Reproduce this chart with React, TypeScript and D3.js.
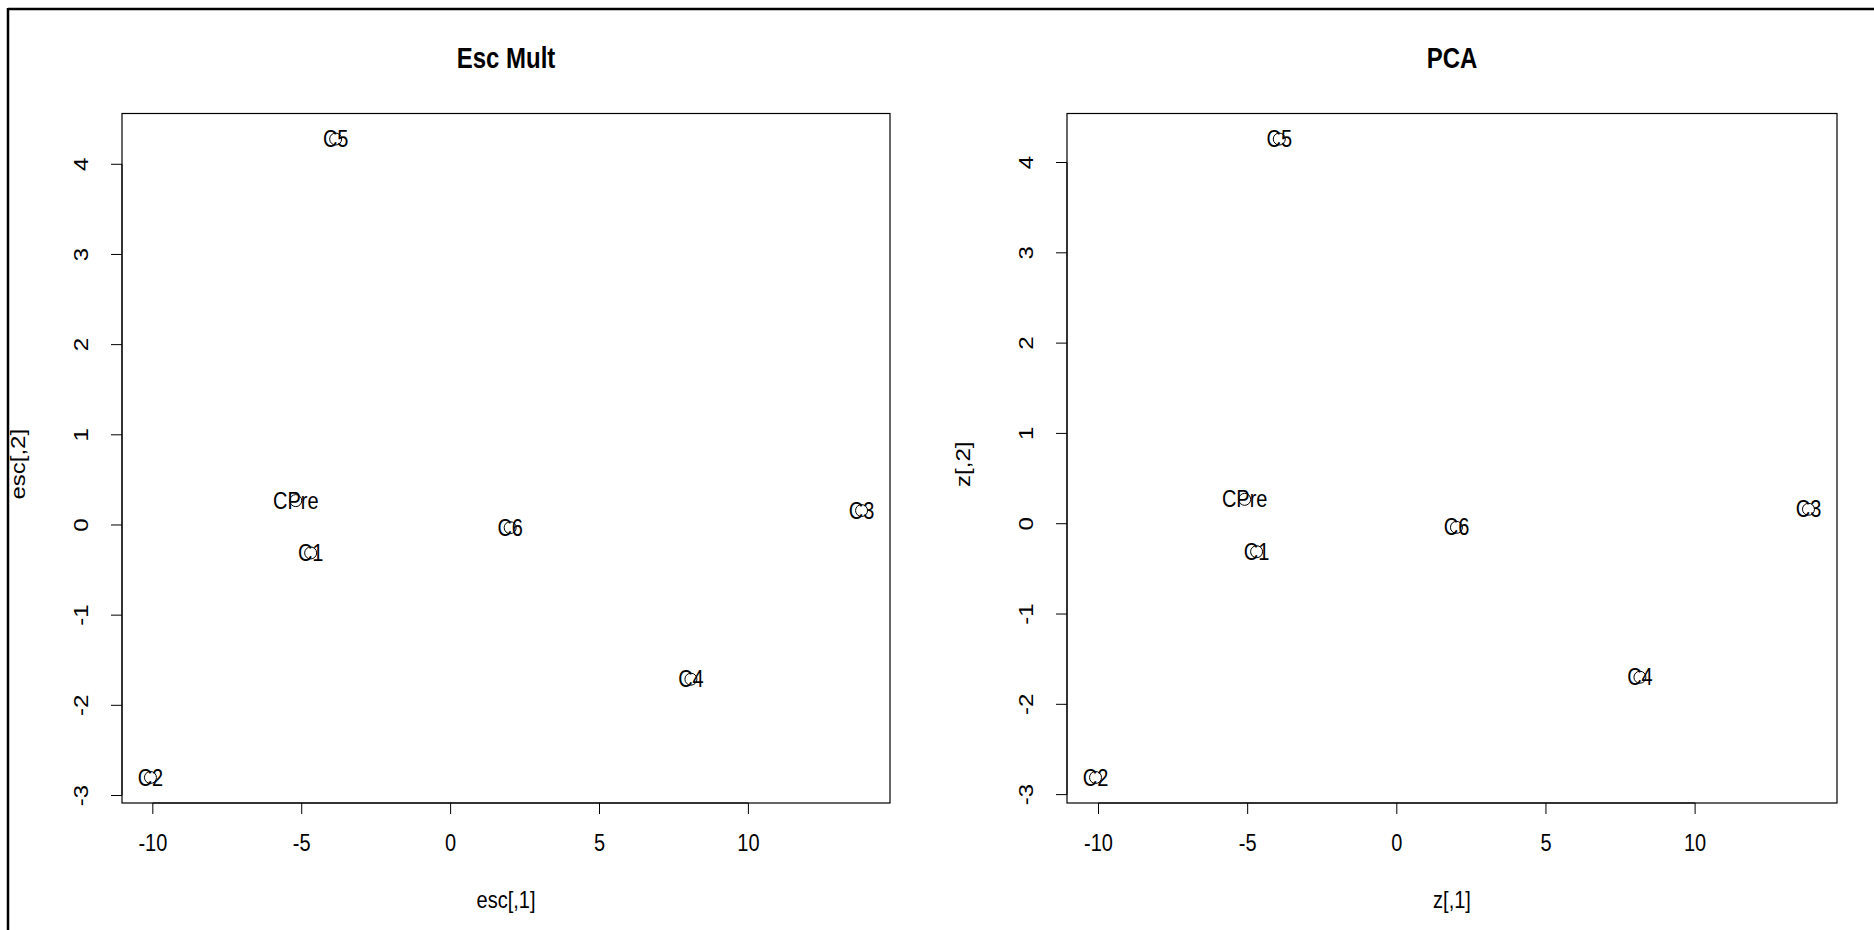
import React from "react";
import * as d3 from "d3";

const labels = ["C1", "C2", "C3", "C4", "C5", "C6", "CPre"];
const escX = [-4.7, -10.08, 13.8, 8.07, -3.86, 2.0, -5.2];
const escY = [-0.31, -2.8, 0.16, -1.71, 4.28, -0.03, 0.27];
const pcaX = [-4.7, -10.1, 13.8, 8.15, -3.94, 2.0, -5.1];
const pcaY = [-0.31, -2.81, 0.16, -1.7, 4.26, -0.04, 0.27];
const xTicks = [-10, -5, 0, 5, 10];
const yTicks = [-3, -2, -1, 0, 1, 2, 3, 4];

const FONT = "Liberation Sans, Arial, sans-serif";
const SY = 1.2;

function expand(vals: number[]): [number, number] {
  const [a, b] = d3.extent(vals) as [number, number];
  const d = (b - a) * 0.04;
  return [a - d, b + d];
}

function T({
  x,
  y,
  size = 20,
  rot = false,
  bold = false,
  children,
}: {
  x: number;
  y: number;
  size?: number;
  rot?: boolean;
  bold?: boolean;
  children: React.ReactNode;
}) {
  return (
    <g transform={`translate(${x},${y}) scale(1,${SY})${rot ? " rotate(-90)" : ""}`}>
      <text
        x={0}
        y={0}
        fontSize={size}
        fontWeight={bold ? "bold" : "normal"}
        textAnchor="middle"
        dominantBaseline="central"
      >
        {children}
      </text>
    </g>
  );
}

type PanelProps = {
  title: string;
  xs: number[];
  ys: number[];
  xlab: string;
  ylab: string;
  left: number;
  right: number;
  top: number;
  bottom: number;
};

function Panel({ title, xs, ys, xlab, ylab, left, right, top, bottom }: PanelProps) {
  const x = d3.scaleLinear().domain(expand(xs)).range([left, right]);
  const y = d3.scaleLinear().domain(expand(ys)).range([bottom, top]);
  const tick = 11;
  const cx = (left + right) / 2;
  const cy = (top + bottom) / 2;
  return (
    <g fontFamily={FONT} fill="#000">
      <T x={cx} y={58} size={24} bold>
        {title}
      </T>
      <rect x={left} y={top} width={right - left} height={bottom - top} fill="none" stroke="#000" strokeWidth={1.2} />
      <line x1={x(xTicks[0])} x2={x(xTicks[xTicks.length - 1])} y1={bottom} y2={bottom} stroke="#000" />
      {xTicks.map((t) => (
        <g key={"x" + t}>
          <line x1={x(t)} x2={x(t)} y1={bottom} y2={bottom + tick} stroke="#000" />
          <T x={x(t)} y={843}>
            {t}
          </T>
        </g>
      ))}
      <line x1={left} x2={left} y1={y(yTicks[0])} y2={y(yTicks[yTicks.length - 1])} stroke="#000" />
      {yTicks.map((t) => (
        <g key={"y" + t}>
          <line x1={left - tick} x2={left} y1={y(t)} y2={y(t)} stroke="#000" />
          <T x={left - 41} y={y(t)} rot>
            {t}
          </T>
        </g>
      ))}
      <T x={cx} y={900}>
        {xlab}
      </T>
      <T x={left - 104} y={cy + 6} rot>
        {ylab}
      </T>
      {xs.map((v, i) => (
        <g key={"p" + i}>
          <circle cx={x(v)} cy={y(ys[i])} r={6} fill="none" stroke="#000" strokeWidth={1} />
          <T x={x(v)} y={y(ys[i])}>
            {labels[i]}
          </T>
        </g>
      ))}
    </g>
  );
}

export default function App() {
  return (
    <svg
      width={1874}
      height={930}
      style={{ position: "absolute", left: 0, top: 0, display: "block", background: "#fff" }}
    >
      <rect x={0} y={0} width={1874} height={930} fill="#fff" />
      <line x1={8} x2={1874} y1={9} y2={9} stroke="#000" strokeWidth={2.5} />
      <line x1={8} x2={8} y1={8} y2={930} stroke="#000" strokeWidth={2.5} />
      <Panel
        title="Esc Mult"
        xs={escX}
        ys={escY}
        xlab="esc[,1]"
        ylab="esc[,2]"
        left={122}
        right={890}
        top={113.5}
        bottom={803}
      />
      <Panel
        title="PCA"
        xs={pcaX}
        ys={pcaY}
        xlab="z[,1]"
        ylab="z[,2]"
        left={1067}
        right={1837}
        top={113.5}
        bottom={803}
      />
    </svg>
  );
}
